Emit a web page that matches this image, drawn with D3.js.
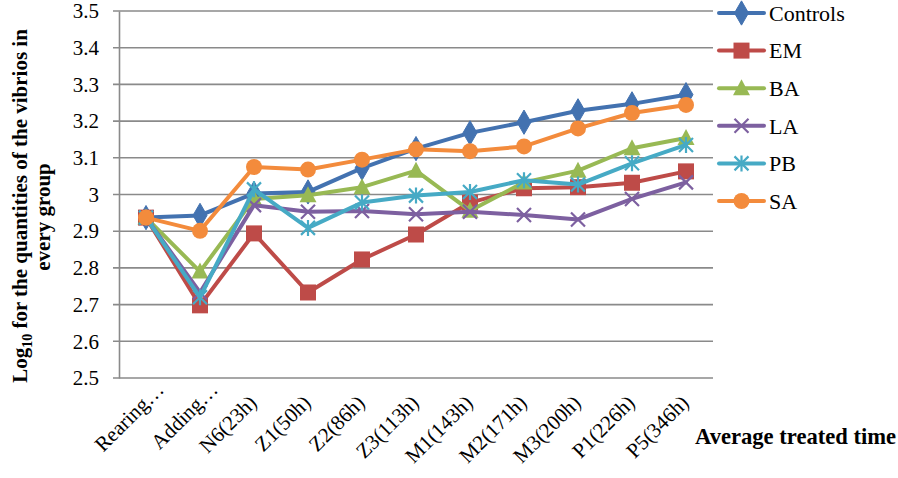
<!DOCTYPE html>
<html>
<head>
<meta charset="utf-8">
<script src="https://cdn.jsdelivr.net/npm/d3@7"></script>
<style>
  html, body { margin: 0; padding: 0; background: #fff; }
  svg { display: block; font-family: "Liberation Serif", "Times New Roman", serif; }
</style>
</head>
<body>
<svg id="chart" width="898" height="478"></svg>
<script>
// ---- data ----
const categories = ["Rearing…", "Adding…", "N6(23h)", "Z1(50h)", "Z2(86h)", "Z3(113h)", "M1(143h)", "M2(171h)", "M3(200h)", "P1(226h)", "P5(346h)"];
const seriesNames = ["Controls", "EM", "BA", "LA", "PB", "SA"];
const controls = [2.937, 2.943, 3.003, 3.007, 3.072, 3.125, 3.168, 3.197, 3.228, 3.247, 3.272];
const em       = [2.937, 2.698, 2.894, 2.733, 2.823, 2.891, 2.978, 3.017, 3.020, 3.032, 3.063];
const ba       = [2.937, 2.790, 2.988, 2.998, 3.020, 3.065, 2.956, 3.033, 3.065, 3.126, 3.154];
const la       = [2.937, 2.733, 2.971, 2.953, 2.955, 2.946, 2.953, 2.944, 2.932, 2.988, 3.033];
const pb       = [2.937, 2.720, 3.014, 2.909, 2.978, 2.997, 3.007, 3.039, 3.027, 3.085, 3.135];
const sa       = [2.937, 2.901, 3.075, 3.068, 3.095, 3.123, 3.118, 3.131, 3.180, 3.222, 3.244];
const yTicks = [2.5, 2.6, 2.7, 2.8, 2.9, 3.0, 3.1, 3.2, 3.3, 3.4, 3.5];
const yTickLabels = ["2.5", "2.6", "2.7", "2.8", "2.9", "3", "3.1", "3.2", "3.3", "3.4", "3.5"];
const xAxisTitle = "Average treated time";
const yTitleLine2 = "every group";

const seriesValues = [controls, em, ba, la, pb, sa];
const colors = ["#4372B0", "#BE4B48", "#98B954", "#7D60A0", "#46AAC5", "#F38B3C"];
const markers = ["diamond", "square", "triangle", "x", "star", "circle"];

// ---- layout ----
const svg = d3.select("#chart");
const plot = { left: 119, right: 713, top: 11, bottom: 378 };
const gridColor = "#8a8a8a";

const x = d3.scalePoint().domain(categories).range([plot.left, plot.right]).padding(0.5);
const y = d3.scaleLinear().domain([2.5, 3.5]).range([plot.bottom, plot.top]);

// gridlines
svg.append("g").selectAll("line").data(yTicks).join("line")
  .attr("x1", plot.left - 6).attr("x2", plot.right)
  .attr("y1", d => y(d)).attr("y2", d => y(d))
  .attr("stroke", gridColor).attr("stroke-width", 1.6);

// y axis via d3.axisLeft
const yAxis = d3.axisLeft(y).tickValues(yTicks)
  .tickFormat((d, i) => yTickLabels[i]).tickSize(0).tickPadding(20);
const yg = svg.append("g").attr("transform", `translate(${plot.left},0)`).call(yAxis);
yg.select(".domain").attr("stroke", gridColor).attr("stroke-width", 1.6);
yg.selectAll("text").attr("font-size", 21).attr("fill", "#000")
  .attr("font-family", "Liberation Serif");

// x labels
const xg = svg.append("g");
categories.forEach(c => {
  const trunc = c.endsWith("…");
  const dx = trunc ? 19 : 4;
  const yy = trunc ? 391 : 404;
  xg.append("text")
    .attr("transform", `translate(${x(c) + dx},${yy}) rotate(-45)`)
    .attr("text-anchor", "end")
    .attr("font-size", 21)
    .attr("fill", "#000")
    .text(c);
});

// x axis title
svg.append("text").attr("x", 695).attr("y", 444)
  .attr("font-size", 22.6).attr("font-weight", "bold").attr("fill", "#000")
  .text(xAxisTitle);

// y axis title
const yt1 = svg.append("text")
  .attr("transform", "translate(27,206) rotate(-90)")
  .attr("text-anchor", "middle").attr("font-size", 21).attr("font-weight", "bold").attr("fill", "#000");
yt1.append("tspan").text("Log");
yt1.append("tspan").attr("font-size", 14).attr("dy", 5).text("10");
yt1.append("tspan").attr("dy", -5).text(" for the quantities of the vibrios in");
svg.append("text")
  .attr("transform", "translate(50,217) rotate(-90)")
  .attr("text-anchor", "middle").attr("font-size", 21).attr("font-weight", "bold").attr("fill", "#000")
  .text(yTitleLine2);

// marker drawing
function drawMarker(g, type, cx, cy, color) {
  if (type === "diamond") {
    g.append("path").attr("d", d3.symbol(d3.symbolDiamond, 170)())
      .attr("transform", `translate(${cx},${cy})`).attr("fill", color).attr("stroke", color).attr("stroke-width", 1);
  } else if (type === "square") {
    g.append("rect").attr("x", cx - 8).attr("y", cy - 8).attr("width", 16).attr("height", 16)
      .attr("fill", color);
  } else if (type === "triangle") {
    g.append("path").attr("d", `M${cx},${cy - 9}L${cx + 8.5},${cy + 7}L${cx - 8.5},${cy + 7}Z`)
      .attr("fill", color);
  } else if (type === "circle") {
    g.append("circle").attr("cx", cx).attr("cy", cy).attr("r", 8).attr("fill", color);
  } else if (type === "x") {
    const r = 7;
    g.append("path").attr("d", `M${cx - r},${cy - r}L${cx + r},${cy + r}M${cx - r},${cy + r}L${cx + r},${cy - r}`)
      .attr("stroke", color).attr("stroke-width", 2.2).attr("fill", "none");
  } else if (type === "star") {
    const r = 7;
    g.append("path").attr("d", `M${cx - r},${cy - r}L${cx + r},${cy + r}M${cx - r},${cy + r}L${cx + r},${cy - r}M${cx},${cy - r - 1}L${cx},${cy + r + 1}`)
      .attr("stroke", color).attr("stroke-width", 2.2).attr("fill", "none");
  }
}

// series
const line = d3.line().x((d, i) => x(categories[i])).y(d => y(d));
seriesValues.forEach((vals, si) => {
  const g = svg.append("g");
  g.append("path").datum(vals).attr("d", line)
    .attr("fill", "none").attr("stroke", colors[si]).attr("stroke-width", 4)
    .attr("stroke-linejoin", "round").attr("stroke-linecap", "round");
  vals.forEach((v, i) => drawMarker(g, markers[si], x(categories[i]), y(v), colors[si]));
});

// legend
const lg = svg.append("g");
seriesNames.forEach((n, i) => {
  const yy = 13 + i * 37.6;
  lg.append("line").attr("x1", 719).attr("x2", 764).attr("y1", yy).attr("y2", yy)
    .attr("stroke", colors[i]).attr("stroke-width", 4).attr("stroke-linecap", "round");
  drawMarker(lg, markers[i], 741.5, yy, colors[i]);
  lg.append("text").attr("x", 769).attr("y", yy).attr("dy", "0.35em")
    .attr("font-size", 22).attr("fill", "#000").text(n);
});
</script>
</body>
</html>
